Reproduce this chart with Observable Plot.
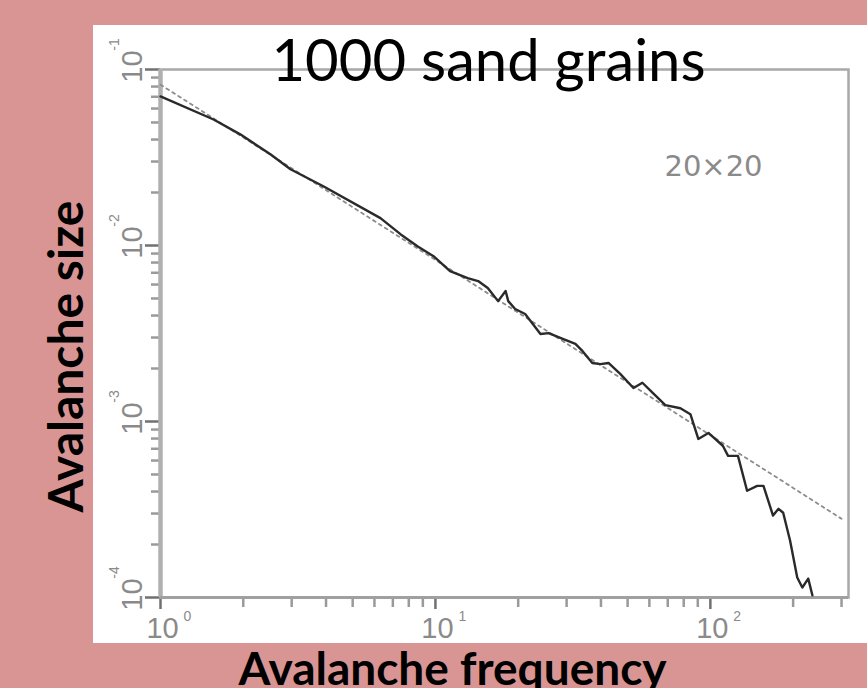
<!DOCTYPE html>
<html>
<head>
<meta charset="utf-8">
<script src="https://cdn.jsdelivr.net/npm/d3@7"></script>
<script src="https://cdn.jsdelivr.net/npm/@observablehq/plot@0.6"></script>
<style>
  html, body { margin: 0; padding: 0; }
  body { width: 867px; height: 688px; background: #D99594; position: relative; overflow: hidden; }
  #panel { position: absolute; left: 93px; top: 25px; width: 774px; height: 618px; background: #ffffff; }
  #chart { position: absolute; left: 0; top: 0; }
</style>
</head>
<body>
<div id="panel"></div>
<div id="chart"></div>
<script>
// Avalanche frequency (x) and avalanche size (y) of the measured curve
const freq = [1, 1.56, 1.95, 2.51, 2.97, 3.91, 6.31, 7.46, 8.6, 9.84,
  11.3, 13.1, 14.3, 15.5, 16.9, 18.0, 18.4, 19.5, 21.2, 22.5,
  24.1, 25.8, 29.2, 32.3, 34.3, 37.2, 39.8, 42.6, 47.1, 52.5,
  56.6, 62.1, 68.6, 77.8, 84.6, 90.4, 98.4, 111, 116, 126,
  136, 148, 156, 169, 177, 184, 195, 207, 216, 227, 235];
const size = [0.0703, 0.052, 0.0428, 0.033, 0.0271, 0.0217, 0.0143, 0.0116, 0.00991, 0.00869,
  0.00715, 0.00653, 0.00628, 0.00573, 0.00483, 0.00551, 0.00483, 0.00436, 0.00408, 0.00362,
  0.00314, 0.00318, 0.00294, 0.00276, 0.00251, 0.00215, 0.00212, 0.00215, 0.00186, 0.00155,
  0.00166, 0.00144, 0.00124, 0.00119, 0.0011, 0.000796, 0.000861, 0.000728, 0.000638, 0.000638,
  0.000404, 0.000431, 0.000431, 0.000292, 0.000319, 0.000303, 0.00021, 0.00013, 0.000114, 0.000128,
  0.000103];
// Dotted power-law fit (end points)
const fitFreq = [1, 300];
const fitSize = [0.082, 0.00028];

// Ticks
const xMajorTicks = [1, 10, 100];
const xTickExps = ["0", "1", "2"];
const xMinorTicks = [2, 3, 4, 5, 6, 7, 8, 9, 20, 30, 40, 50, 60, 70, 80, 90, 200, 300];
const yMajorTicks = [1e-4, 1e-3, 1e-2, 1e-1];
const yTickExps = ["-4", "-3", "-2", "-1"];
const yMinorTicks = [2e-4, 3e-4, 4e-4, 5e-4, 6e-4, 7e-4, 8e-4, 9e-4,
  2e-3, 3e-3, 4e-3, 5e-3, 6e-3, 7e-3, 8e-3, 9e-3,
  2e-2, 3e-2, 4e-2, 5e-2, 6e-2, 7e-2, 8e-2, 9e-2];

// Texts
const titleText = "1000 sand grains";
const xLabel = "Avalanche frequency";
const yLabel = "Avalanche size";
const annotation = "20×20";

const curve = freq.map((f, i) => ({f, s: size[i]}));
const fit = fitFreq.map((f, i) => ({f, s: fitSize[i]}));
const xLab = xMajorTicks.map((v, i) => ({v, e: xTickExps[i]}));
const yLab = yMajorTicks.map((v, i) => ({v, e: yTickExps[i]}));

const tickFont = "Liberation Sans, Arial, sans-serif";
const labelFont = "Lato, 'Open Sans', sans-serif";

const chart = Plot.plot({
  width: 867,
  height: 688,
  marginLeft: 160,
  marginRight: 19,
  marginTop: 69,
  marginBottom: 91,
  style: {background: "transparent", overflow: "visible"},
  x: {type: "log", domain: [1, 318]},
  y: {type: "log", domain: [1e-4, 1e-1]},
  marks: [
    // minor and major ticks
    Plot.axisX({ticks: xMinorTicks, tickSize: 10, tickFormat: () => "", stroke: "#9a9a9a", strokeWidth: 2.5, label: null}),
    Plot.axisX({ticks: xMajorTicks, tickSize: 12, tickFormat: () => "", stroke: "#707070", strokeWidth: 2.5, label: null}),
    Plot.axisY({ticks: yMinorTicks, tickSize: 9, tickFormat: () => "", stroke: "#9a9a9a", strokeWidth: 2.5, label: null}),
    Plot.axisY({ticks: yMajorTicks, tickSize: 15, tickFormat: () => "", stroke: "#707070", strokeWidth: 2.5, label: null}),
    // frame
    Plot.frame({stroke: "#a8a8a8", strokeWidth: 2.5}),
    Plot.ruleX([1], {stroke: "#b0b0b0", strokeWidth: 4.5}),
    Plot.ruleY([1e-4], {stroke: "#a0a0a0", strokeWidth: 3}),
    // x tick labels
    Plot.text(xLab, {x: "v", frameAnchor: "bottom", text: () => "10", dx: 2, dy: 40, lineAnchor: "bottom", textAnchor: "middle", fontSize: 29, fontFamily: tickFont, fill: "#8a8a8a"}),
    Plot.text(xLab, {x: "v", frameAnchor: "bottom", text: "e", dx: 23, dy: 23, lineAnchor: "bottom", textAnchor: "start", fontSize: 14, fontFamily: tickFont, fill: "#8a8a8a"}),
    // y tick labels (rotated)
    Plot.text(yLab, {y: "v", frameAnchor: "left", text: () => "10", dx: -19, dy: -3, rotate: -90, lineAnchor: "bottom", textAnchor: "middle", fontSize: 29, fontFamily: tickFont, fill: "#8a8a8a"}),
    Plot.text(yLab, {y: "v", frameAnchor: "left", text: "e", dx: -42, dy: -25, rotate: -90, lineAnchor: "bottom", textAnchor: "middle", fontSize: 14, fontFamily: tickFont, fill: "#8a8a8a"}),
    // fit line
    Plot.line(fit, {x: "f", y: "s", stroke: "#8c8c8c", strokeWidth: 1.8, strokeDasharray: "3,4"}),
    // data curve
    Plot.line(curve, {x: "f", y: "s", stroke: "#2a2a2a", strokeWidth: 2.4, strokeLinejoin: "round"}),
    // annotation
    Plot.text([annotation], {frameAnchor: "top-right", text: d => d, dx: -135, dy: 106, lineAnchor: "bottom", textAnchor: "middle", fontSize: 29, fontFamily: "DejaVu Sans, sans-serif", fill: "#8a8a8a"}),
    // title
    Plot.text([titleText], {frameAnchor: "top", text: d => d, dx: -16, dy: 11, lineAnchor: "bottom", textAnchor: "middle", fontSize: 58, fontFamily: labelFont, fill: "#000"}),
    // axis labels
    Plot.text([xLabel], {frameAnchor: "bottom", text: d => d, dx: -52, dy: 87, lineAnchor: "bottom", textAnchor: "middle", fontSize: 46, fontWeight: "bold", fontFamily: labelFont, fill: "#000"}),
    Plot.text([yLabel], {frameAnchor: "left", text: d => d, dx: -78, dy: 23, rotate: -90, lineAnchor: "bottom", textAnchor: "middle", fontSize: 48, fontWeight: "bold", fontFamily: labelFont, fill: "#000"})
  ]
});
document.getElementById("chart").appendChild(chart);
</script>
</body>
</html>
